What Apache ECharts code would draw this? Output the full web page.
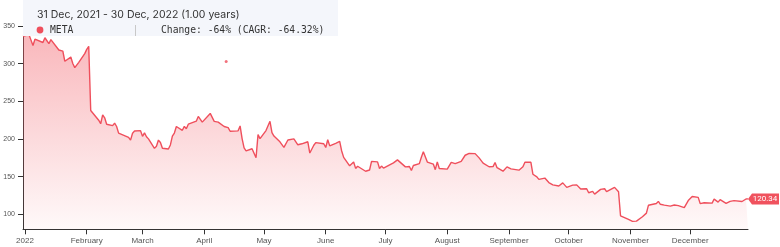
<!DOCTYPE html>
<html>
<head>
<meta charset="utf-8">
<script src="https://cdn.jsdelivr.net/npm/echarts@6/dist/echarts.min.js"></script>
<style>html,body{margin:0;padding:0;background:#fff;}#c{width:780px;height:247px;}</style>
</head>
<body>
<div id="c"></div>
<script>
const dates = [
'2021-12-31',
'2022-01-03','2022-01-04','2022-01-05','2022-01-06','2022-01-07','2022-01-10','2022-01-11','2022-01-12','2022-01-13','2022-01-14','2022-01-18','2022-01-19','2022-01-20','2022-01-21','2022-01-24','2022-01-25','2022-01-26','2022-01-27','2022-01-28','2022-01-31',
'2022-02-01','2022-02-02','2022-02-03','2022-02-04','2022-02-07','2022-02-08','2022-02-09','2022-02-10','2022-02-11','2022-02-14','2022-02-15','2022-02-16','2022-02-17','2022-02-18','2022-02-22','2022-02-23','2022-02-24','2022-02-25','2022-02-28',
'2022-03-01','2022-03-02','2022-03-03','2022-03-04','2022-03-07','2022-03-08','2022-03-09','2022-03-10','2022-03-11','2022-03-14','2022-03-15','2022-03-16','2022-03-17','2022-03-18','2022-03-21','2022-03-22','2022-03-23','2022-03-24','2022-03-25','2022-03-28','2022-03-29','2022-03-30','2022-03-31',
'2022-04-01','2022-04-04','2022-04-05','2022-04-06','2022-04-07','2022-04-08','2022-04-11','2022-04-12','2022-04-13','2022-04-14','2022-04-18','2022-04-19','2022-04-20','2022-04-21','2022-04-22','2022-04-25','2022-04-26','2022-04-27','2022-04-28','2022-04-29',
'2022-05-02','2022-05-03','2022-05-04','2022-05-05','2022-05-06','2022-05-09','2022-05-10','2022-05-11','2022-05-12','2022-05-13','2022-05-16','2022-05-17','2022-05-18','2022-05-19','2022-05-20','2022-05-23','2022-05-24','2022-05-25','2022-05-26','2022-05-27','2022-05-31',
'2022-06-01','2022-06-02','2022-06-03','2022-06-06','2022-06-07','2022-06-08','2022-06-09','2022-06-10','2022-06-13','2022-06-14','2022-06-15','2022-06-16','2022-06-17','2022-06-21','2022-06-22','2022-06-23','2022-06-24','2022-06-27','2022-06-28','2022-06-29','2022-06-30',
'2022-07-01','2022-07-05','2022-07-06','2022-07-07','2022-07-08','2022-07-11','2022-07-12','2022-07-13','2022-07-14','2022-07-15','2022-07-18','2022-07-19','2022-07-20','2022-07-21','2022-07-22','2022-07-25','2022-07-26','2022-07-27','2022-07-28','2022-07-29',
'2022-08-01','2022-08-02','2022-08-03','2022-08-04','2022-08-05','2022-08-08','2022-08-09','2022-08-10','2022-08-11','2022-08-12','2022-08-15','2022-08-16','2022-08-17','2022-08-18','2022-08-19','2022-08-22','2022-08-23','2022-08-24','2022-08-25','2022-08-26','2022-08-29','2022-08-30','2022-08-31',
'2022-09-01','2022-09-02','2022-09-06','2022-09-07','2022-09-08','2022-09-09','2022-09-12','2022-09-13','2022-09-14','2022-09-15','2022-09-16','2022-09-19','2022-09-20','2022-09-21','2022-09-22','2022-09-23','2022-09-26','2022-09-27','2022-09-28','2022-09-29','2022-09-30',
'2022-10-03','2022-10-04','2022-10-05','2022-10-06','2022-10-07','2022-10-10','2022-10-11','2022-10-12','2022-10-13','2022-10-14','2022-10-17','2022-10-18','2022-10-19','2022-10-20','2022-10-21','2022-10-24','2022-10-25','2022-10-26','2022-10-27','2022-10-28','2022-10-31',
'2022-11-01','2022-11-02','2022-11-03','2022-11-04','2022-11-07','2022-11-08','2022-11-09','2022-11-10','2022-11-11','2022-11-14','2022-11-15','2022-11-16','2022-11-17','2022-11-18','2022-11-21','2022-11-22','2022-11-23','2022-11-25','2022-11-28','2022-11-29','2022-11-30',
'2022-12-01','2022-12-02','2022-12-05','2022-12-06','2022-12-07','2022-12-08','2022-12-09','2022-12-12','2022-12-13','2022-12-14','2022-12-15','2022-12-16','2022-12-19','2022-12-20','2022-12-21','2022-12-22','2022-12-23','2022-12-27','2022-12-28','2022-12-29','2022-12-30'
];
const closes = [
336.35,
338.54,336.53,324.17,332.46,331.79,328.07,334.37,333.26,326.48,331.90,318.15,319.59,316.56,303.17,308.71,300.15,294.64,293.20,301.71,313.26,
319.00,323.00,237.76,237.09,224.91,220.18,232.00,228.07,219.55,217.70,221.00,216.54,207.71,206.16,202.08,198.45,207.60,210.48,211.03,
203.49,208.11,202.97,200.06,187.47,190.29,198.50,195.21,187.61,186.63,192.03,203.63,207.84,216.49,211.49,216.65,213.46,219.57,221.82,223.59,229.86,227.85,222.36,
224.85,233.89,231.84,223.30,222.95,222.33,216.46,214.14,214.99,210.18,210.77,217.31,200.42,188.07,184.11,186.99,180.95,174.95,205.73,200.47,
211.13,212.03,223.41,208.28,203.77,196.21,197.65,188.74,191.24,198.62,200.04,202.62,192.24,191.29,193.54,196.23,181.28,183.83,191.63,195.13,193.64,
188.64,198.86,190.78,194.25,195.65,196.64,184.00,175.57,164.26,163.73,169.35,160.87,163.74,157.05,155.85,158.75,170.16,169.49,160.68,163.94,161.25,
160.03,168.19,169.77,172.19,170.25,162.88,163.27,163.49,158.05,164.70,167.23,175.78,183.09,183.17,169.27,166.65,159.15,169.58,160.72,159.10,
159.93,160.19,168.80,170.57,167.11,170.25,168.53,178.34,177.49,180.89,180.50,179.89,174.85,174.66,167.96,163.05,161.11,163.26,168.78,161.78,157.16,158.35,162.93,
165.36,160.32,158.54,160.39,163.06,169.15,168.96,153.13,151.47,149.55,146.29,148.02,146.09,142.12,142.82,139.07,137.51,138.98,141.61,142.34,135.68,
138.61,140.28,138.98,136.77,133.45,133.79,128.54,127.50,130.29,126.76,133.04,134.04,133.82,130.01,130.01,135.68,137.51,129.82,97.94,99.20,93.16,
95.20,90.54,88.91,90.79,96.72,96.47,101.47,111.87,113.02,114.22,117.08,113.23,111.45,112.05,110.85,111.44,112.24,111.41,108.78,109.46,118.10,
120.44,123.49,122.43,114.12,113.93,115.33,115.90,114.71,120.15,121.59,116.15,119.43,114.48,117.12,117.14,117.12,118.04,116.88,115.62,120.26,120.34
];
const strayPoint = ['2022-04-12', 303];
const monthTicks = ['2022-01-01','2022-02-01','2022-03-01','2022-04-01','2022-05-01','2022-06-01','2022-07-01','2022-08-01','2022-09-01','2022-10-01','2022-11-01','2022-12-01'];
const monthLabels = ['2022','February','March','April','May','June','July','August','September','October','November','December'];
const yTicks = [100,150,200,250,300,350];
const headerTitle = '31 Dec, 2021 - 30 Dec, 2022 (1.00 years)';
const seriesName = 'META';
const changeText = 'Change: -64% (CAGR: -64.32%)';

function ts(s){ const p = s.split('-').map(Number); return new Date(p[0], p[1]-1, p[2]).getTime(); }

const lineData = dates.map((d,i)=>[ts(d), closes[i]]);
const last = lineData[lineData.length-1];
const tickTs = monthTicks.map(ts);

const chart = echarts.init(document.getElementById('c'), null, {renderer:'canvas'});
chart.setOption({
  animation:false,
  backgroundColor:'#ffffff',
  grid:{left:23, right:32, top:3.4, bottom:17.7, containLabel:false},
  xAxis:{
    type:'value',
    min: ts(dates[0]), max: ts(dates[dates.length-1]),
    axisLine:{lineStyle:{color:'#333', width:1}},
    axisTick:{show:true, length:5, lineStyle:{color:'#333'}, customValues: tickTs},
    axisLabel:{color:'#555', fontSize:8, fontFamily:'Liberation Sans, Arial, sans-serif', margin:7,
      customValues: tickTs,
      formatter:function(v){ return monthLabels[new Date(v).getMonth()]; }},
    splitLine:{show:false}
  },
  yAxis:{
    type:'value', min:80, max:380,
    axisLine:{show:true, lineStyle:{color:'#333', width:1}},
    axisTick:{show:true, length:5, lineStyle:{color:'#333'}, customValues: yTicks},
    axisLabel:{color:'#555', fontSize:7, fontFamily:'Liberation Sans, Arial, sans-serif', margin:8, customValues: yTicks},
    splitLine:{show:false}
  },
  series:[
    {
      type:'line', name:seriesName, data:lineData, showSymbol:false, symbol:'none',
      lineStyle:{color:'#ef4f5c', width:1.4},
      areaStyle:{color:new echarts.graphic.LinearGradient(0,0,0,1,[
        {offset:0, color:'rgba(242,90,100,0.62)'},
        {offset:1, color:'rgba(242,90,100,0.05)'}
      ])},
      markPoint:{
        symbol:'path://M0,5.5 L4,0 L31,0 L31,11 L4,11 Z',
        symbolSize:[31,11],
        symbolKeepAspect:false,
        symbolOffset:['50%',0],
        itemStyle:{color:'#f0525e'},
        label:{show:true, color:'#fff', fontSize:8, fontFamily:'Roboto, sans-serif', offset:[1.5,0], formatter:function(p){return p.value.toFixed(2);}},
        data:[{coord:last, value:last[1]}]
      },
      z:2
    },
    {
      type:'scatter', data:[[ts(strayPoint[0]), strayPoint[1]]], symbolSize:3,
      itemStyle:{color:'#ef4f5c'}, z:3
    }
  ],
  graphic:[
    {type:'rect', shape:{x:23, y:0, width:315, height:36}, style:{fill:'#f4f6fb'}, z:100},
    {type:'text', x:37, y:15, style:{text:headerTitle, fill:'#333', font:'10.5px Inter, sans-serif', textVerticalAlign:'middle'}, z:101},
    {type:'circle', shape:{cx:40, cy:30, r:3.4}, style:{fill:'#ef4f5c'}, z:101},
    {type:'text', x:50, y:30, style:{text:seriesName, fill:'#333', font:'9.7px "DejaVu Sans Mono", monospace', textVerticalAlign:'middle'}, z:101},
    {type:'line', shape:{x1:135.5, y1:25, x2:135.5, y2:36}, style:{stroke:'#c8c8c8', lineWidth:1}, z:101},
    {type:'text', x:161, y:30, style:{text:changeText, fill:'#333', font:'9.7px "DejaVu Sans Mono", monospace', textVerticalAlign:'middle'}, z:101}
  ]
});
</script>
</body>
</html>
